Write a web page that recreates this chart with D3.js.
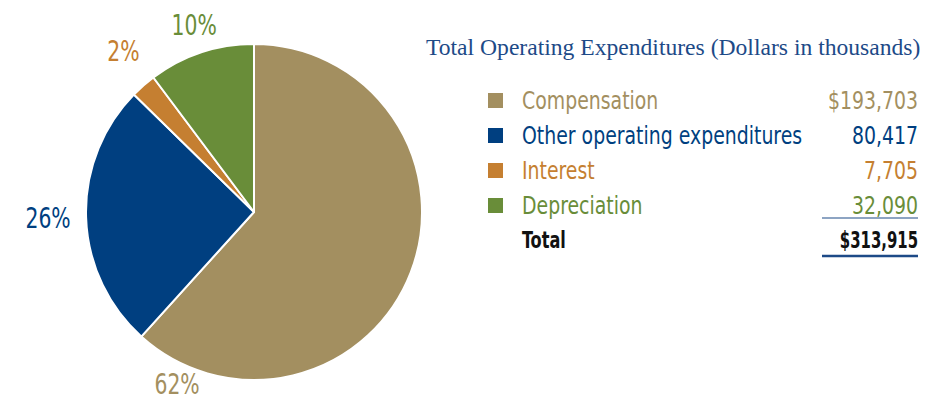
<!DOCTYPE html>
<html>
<head>
<meta charset="utf-8">
<script src="https://cdn.jsdelivr.net/npm/d3@7"></script>
<style>
  body { margin: 0; background: #fff; }
  svg text { font-family: "DejaVu Sans Condensed", "Liberation Sans Narrow", "Roboto", sans-serif; }
  .title { font-family: "Liberation Serif", "DejaVu Serif", serif !important; }
</style>
</head>
<body>
<div id="chart"></div>
<script>
// Total operating expenditures (dollars in thousands)
var categories = ["Compensation", "Other operating expenditures", "Interest", "Depreciation"];
var values = [193703, 80417, 7705, 32090];
var valueLabels = ["$193,703", "80,417", "7,705", "32,090"];
var totalLabel = "$313,915";
var colors = ["#a38f60", "#003f80", "#c57f31", "#698d39"];

var W = 951, H = 400;
var cx = 254, cy = 212, r = 168;

var svg = d3.select("#chart").append("svg")
    .attr("width", W).attr("height", H);

// text squeezed horizontally to get the condensed look of the original face
function narrowText(parent, x, y, sx, anchor) {
    return parent.append("g")
        .attr("transform", "translate(" + x + "," + y + ") scale(" + sx + ",1)")
        .append("text")
        .attr("text-anchor", anchor || "start");
}

var total = d3.sum(values);
var pie = d3.pie().sort(null).value(function (d) { return d; });
var arcs = pie(values);
var arc = d3.arc().innerRadius(0).outerRadius(r);

var g = svg.append("g").attr("transform", "translate(" + cx + "," + cy + ")");

g.selectAll("path.slice")
    .data(arcs)
    .enter().append("path")
    .attr("class", "slice")
    .attr("d", arc)
    .attr("fill", function (d, i) { return colors[i]; })
    .attr("stroke", "#fff")
    .attr("stroke-width", 2)
    .attr("stroke-linejoin", "round");

// Percent labels outside the pie; big slice label sits toward its trailing edge
var labelR = [188, 206, 208, 197];
var labelShift = [0.419, 0.002, 0.26, 0.02];   // fraction of slice span past the middle
arcs.forEach(function (d, i) {
    var a = (d.startAngle + d.endAngle) / 2 + (d.endAngle - d.startAngle) * labelShift[i];
    narrowText(g, labelR[i] * Math.sin(a), -labelR[i] * Math.cos(a), 0.78, "middle")
        .attr("dy", "0.36em")
        .attr("font-size", 29)
        .attr("fill", colors[i])
        .text(Math.round(d.value / total * 100) + "%");
});

// Legend table
svg.append("text")
    .attr("class", "title")
    .attr("x", 426).attr("y", 55)
    .attr("font-size", 23.6)
    .attr("fill", "#1d4a87")
    .text("Total Operating Expenditures (Dollars in thousands)");

var rowY = d3.scalePoint().domain(d3.range(categories.length + 1)).range([100, 240]);
var sqX = 488, labX = 522, valX = 918;

categories.forEach(function (c, i) {
    var y = rowY(i);
    svg.append("rect")
        .attr("x", sqX).attr("y", y - 7)
        .attr("width", 15).attr("height", 15)
        .attr("fill", colors[i]);
    narrowText(svg, labX, y, 0.84)
        .attr("dy", "0.36em")
        .attr("font-size", 25)
        .attr("fill", colors[i])
        .text(c);
    narrowText(svg, valX, y, 0.84, "end")
        .attr("dy", "0.36em")
        .attr("font-size", 25)
        .attr("fill", colors[i])
        .text(valueLabels[i]);
});

var totY = rowY(categories.length);
narrowText(svg, labX, totY, 0.78)
    .attr("dy", "0.36em")
    .attr("font-size", 23).attr("font-weight", "bold")
    .attr("fill", "#111")
    .text("Total");
narrowText(svg, valX, totY, 0.72, "end")
    .attr("dy", "0.36em")
    .attr("font-size", 23).attr("font-weight", "bold")
    .attr("fill", "#111")
    .text(totalLabel);

svg.append("line")
    .attr("x1", 822).attr("x2", 918)
    .attr("y1", 218).attr("y2", 218)
    .attr("stroke", "#1d4a87").attr("stroke-width", 1.2);
svg.append("line")
    .attr("x1", 822).attr("x2", 918)
    .attr("y1", 256).attr("y2", 256)
    .attr("stroke", "#1d4a87").attr("stroke-width", 2.5);
</script>
</body>
</html>
